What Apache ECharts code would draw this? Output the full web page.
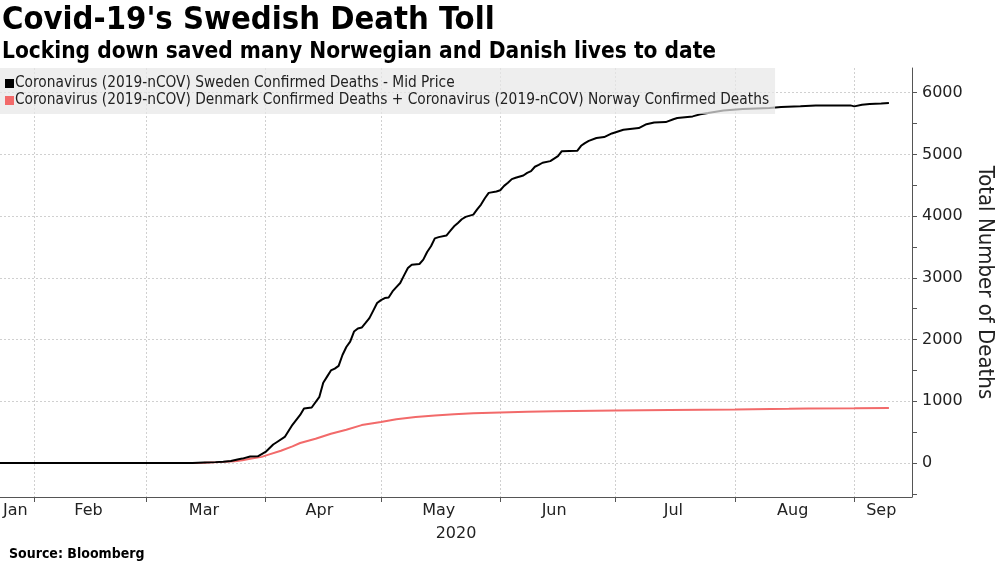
<!DOCTYPE html>
<html>
<head>
<meta charset="utf-8">
<script src="https://cdn.jsdelivr.net/npm/echarts@6/dist/echarts.min.js"></script>
<style>
  html, body { margin: 0; padding: 0; background: #fff; }
  #chart { width: 1000px; height: 562px; }
</style>
</head>
<body>
<div id="chart"></div>
<script>
// ---- Data ----
const swedenDates = [
  '2020-01-23','2020-03-10','2020-03-13','2020-03-16','2020-03-19','2020-03-21','2020-03-23','2020-03-25',
  '2020-03-26','2020-03-28','2020-03-30','2020-04-01','2020-04-03','2020-04-04','2020-04-06','2020-04-08',
  '2020-04-10','2020-04-11','2020-04-13','2020-04-15','2020-04-16','2020-04-17','2020-04-18','2020-04-19',
  '2020-04-20','2020-04-21','2020-04-22','2020-04-23','2020-04-24','2020-04-25','2020-04-26','2020-04-27',
  '2020-04-28','2020-04-29','2020-04-30','2020-05-01','2020-05-02','2020-05-03','2020-05-04','2020-05-05',
  '2020-05-06','2020-05-07','2020-05-08','2020-05-09','2020-05-11','2020-05-12','2020-05-13','2020-05-14',
  '2020-05-15','2020-05-16','2020-05-18','2020-05-19','2020-05-20','2020-05-21','2020-05-22','2020-05-23',
  '2020-05-25','2020-05-26','2020-05-27','2020-05-28','2020-05-29','2020-05-31','2020-06-01','2020-06-02',
  '2020-06-03','2020-06-04','2020-06-05','2020-06-07','2020-06-08','2020-06-09','2020-06-10','2020-06-11',
  '2020-06-12','2020-06-14','2020-06-16','2020-06-17','2020-06-21','2020-06-22','2020-06-23','2020-06-24',
  '2020-06-26','2020-06-28','2020-06-30','2020-07-03','2020-07-07','2020-07-09','2020-07-11','2020-07-14',
  '2020-07-16','2020-07-17','2020-07-21','2020-07-23','2020-07-25','2020-07-29','2020-08-03','2020-08-10',
  '2020-08-13','2020-08-18','2020-08-22','2020-08-31','2020-09-01','2020-09-03','2020-09-05','2020-09-08',
  '2020-09-10'
];
const swedenDeaths = [
  0, 0, 1, 8, 15, 22, 33, 62,
  72, 105, 110, 180, 300, 341, 423, 620,
  780, 884, 900, 1073, 1300, 1400, 1500, 1530,
  1574, 1750, 1880, 1968, 2130, 2180, 2195, 2270,
  2348, 2470, 2592, 2640, 2673, 2683, 2780, 2850,
  2917, 3040, 3160, 3214, 3225, 3295, 3420, 3512,
  3640, 3660, 3685, 3760, 3836, 3890, 3950, 3988,
  4025, 4110, 4187, 4290, 4377, 4400, 4420, 4490,
  4540, 4600, 4621, 4659, 4700, 4729, 4800, 4830,
  4865, 4891, 4972, 5053, 5059, 5140, 5184, 5220,
  5265, 5281, 5340, 5400, 5427, 5490, 5518, 5524,
  5570, 5589, 5616, 5650, 5670, 5713, 5735, 5751,
  5767, 5780, 5794, 5794, 5778, 5805, 5816, 5825,
  5832
];
const nordicDates = [
  '2020-01-23','2020-03-12','2020-03-16','2020-03-20','2020-03-24','2020-03-26','2020-03-28','2020-03-31',
  '2020-04-02','2020-04-05','2020-04-08','2020-04-10','2020-04-14','2020-04-18','2020-04-22','2020-04-26',
  '2020-05-01','2020-05-05','2020-05-10','2020-05-15','2020-05-20','2020-05-25','2020-06-01','2020-06-08',
  '2020-06-15','2020-07-01','2020-07-15','2020-08-01','2020-08-15','2020-08-20','2020-09-01','2020-09-10'
];
const nordicDeaths = [
  0, 0, 5, 15, 30, 45, 68, 100,
  140, 200, 270, 325, 394, 475, 540, 615,
  665, 710, 745, 770, 790, 805, 818, 830,
  840, 852, 860, 868, 878, 885, 888, 892
];
const seriesNames = [
  'Coronavirus (2019-nCOV) Sweden Confirmed Deaths - Mid Price',
  'Coronavirus (2019-nCOV) Denmark Confirmed Deaths + Coronavirus (2019-nCOV) Norway Confirmed Deaths'
];
const monthStarts = ['2020-02-01','2020-03-01','2020-04-01','2020-05-01','2020-06-01','2020-07-01','2020-08-01','2020-09-01'];
const monthLabelDates = ['2020-01-27','2020-02-15','2020-03-16','2020-04-15','2020-05-16','2020-06-15','2020-07-16','2020-08-16','2020-09-08'];
const monthLabels = ['Jan','Feb','Mar','Apr','May','Jun','Jul','Aug','Sep'];
const yearLabel = '2020';
const yTickValues = [-500,0,500,1000,1500,2000,2500,3000,3500,4000,4500,5000,5500,6000];
const yLabelValues = [0,1000,2000,3000,4000,5000,6000];

// ---- Chart ----
const FONT = 'DejaVu Sans Condensed';
const AXISFONT = 'DejaVu Sans';
const t = s => echarts.number.parseDate(s).getTime();
const xMin = t('2020-01-23'), xMax = t('2020-09-16');
const labelTimes = monthLabelDates.map(t);

const chart = echarts.init(document.getElementById('chart'), null, {renderer: 'canvas'});
chart.setOption({
  animation: false,
  backgroundColor: '#ffffff',
  textStyle: { fontFamily: FONT },
  title: [
    { text: "Covid-19's Swedish Death Toll", left: -3, top: -1,
      textStyle: { fontFamily: FONT, fontWeight: 'bold', fontSize: 32.5, color: '#000' } },
    { text: 'Locking down saved many Norwegian and Danish lives to date', left: -3, top: 36,
      textStyle: { fontFamily: FONT, fontWeight: 'bold', fontSize: 22.5, color: '#000' } },
    { text: 'Source: Bloomberg', left: 4, top: 542,
      textStyle: { fontFamily: FONT, fontWeight: 'bold', fontSize: 14, color: '#000' } }
  ],
  legend: {
    orient: 'vertical', left: 0, top: 68, z: 10,
    padding: [8, 6, 6, 5], itemGap: 2, itemWidth: 9, itemHeight: 9,
    backgroundColor: 'rgba(232,232,232,0.72)',
    icon: 'rect',
    textStyle: { fontFamily: FONT, fontSize: 15.3, color: '#222', padding: [0, 0, 0, -4] },
    data: seriesNames
  },
  grid: { left: 0, right: 88, top: 68, bottom: 65, containLabel: false, outerBoundsMode: 'none' },
  xAxis: [
    {
      type: 'value', min: xMin, max: xMax,
      name: yearLabel, nameLocation: 'middle', nameGap: 29,
      nameTextStyle: { fontFamily: AXISFONT, fontSize: 16, color: '#222' },
      axisLine: { show: true, onZero: false, lineStyle: { color: '#555', width: 1 } },
      axisTick: { show: true, length: 5, lineStyle: { color: '#555' }, customValues: monthStarts.map(t) },
      splitLine: { show: true, lineStyle: { color: '#d0d0d0', type: [2, 2], width: 1 } },
      axisLabel: {
        show: true, customValues: labelTimes, margin: 6, fontSize: 16, color: '#222', fontFamily: AXISFONT,
        hideOverlap: false, showMinLabel: true, showMaxLabel: true,
        formatter: function (v) {
          let best = 0, bd = Infinity;
          labelTimes.forEach((lt, i) => { const d = Math.abs(lt - v); if (d < bd) { bd = d; best = i; } });
          return monthLabels[best];
        }
      }
    }
  ],
  yAxis: [
    {
      type: 'value', position: 'right', min: -550, max: 6400,
      name: 'Total Number of Deaths', nameLocation: 'middle', nameRotate: -90, nameGap: 62,
      nameTextStyle: { fontFamily: FONT, fontSize: 22, color: '#222' },
      axisLine: { show: true, lineStyle: { color: '#555', width: 1 } },
      axisTick: { show: true, inside: false, length: 5, lineStyle: { color: '#555' }, customValues: yTickValues },
      axisLabel: { show: true, customValues: yLabelValues, margin: 10, fontSize: 16, color: '#222', fontFamily: AXISFONT,
        formatter: v => String(v) },
      splitLine: { show: false }
    },
    {
      type: 'value', position: 'right', min: -550, max: 6400, show: true,
      axisLine: { show: false }, axisLabel: { show: false },
      axisTick: { show: false, customValues: yLabelValues },
      splitLine: { show: true, lineStyle: { color: '#d0d0d0', type: [2, 2], width: 1 } }
    }
  ],
  series: [
    {
      name: seriesNames[0], type: 'line', yAxisIndex: 0, showSymbol: false, symbol: 'none',
      color: '#000', lineStyle: { color: '#000', width: 2 }, z: 3,
      data: swedenDates.map((d, i) => [t(d), swedenDeaths[i]])
    },
    {
      name: seriesNames[1], type: 'line', yAxisIndex: 0, showSymbol: false, symbol: 'none',
      color: '#f26a6a', lineStyle: { color: '#f26a6a', width: 2 }, z: 2,
      data: nordicDates.map((d, i) => [t(d), nordicDeaths[i]])
    }
  ]
});
</script>
</body>
</html>
